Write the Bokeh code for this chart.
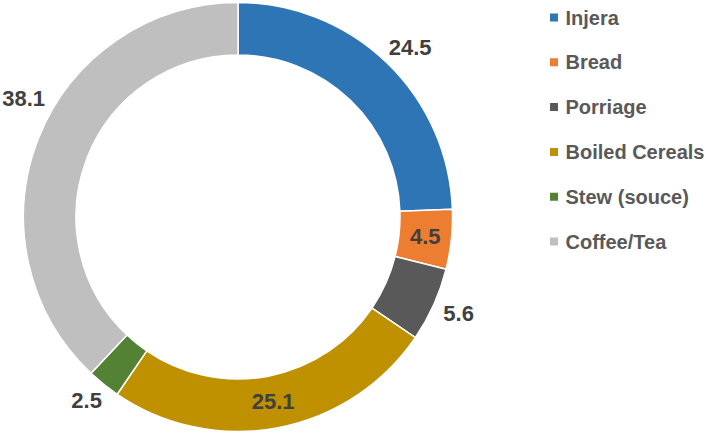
import math
import numpy as np
from bokeh.plotting import figure
from bokeh.models import Range1d, ColumnDataSource
from bokeh.core.properties import value
from bokeh.embed import file_html
from bokeh.resources import INLINE

# ---- data ----
categories = ["Injera", "Bread", "Porriage", "Boiled Cereals", "Stew (souce)", "Coffee/Tea"]
values = [24.5, 4.5, 5.6, 25.1, 2.5, 38.1]
colors = ["#2E75B6", "#ED7D31", "#595959", "#BF9000", "#548235", "#BFBFBF"]
label_inside = [False, True, False, True, False, False]

# ---- layout / style ----
W, H = 709, 433
CX, CY = 237.5, H - 216.5
R_OUT, R_IN = 214.5, 162.0
GAP = 8.0
LABEL_PX = 22
LABEL_COLOR = "#404040"
LEG_PX = 20
LEG_COLOR = "#595959"
FONT = "Liberation Sans"

p = figure(width=W, height=H, output_backend="svg", toolbar_location=None,
           x_range=Range1d(0, W), y_range=Range1d(0, H), min_border=0,
           border_fill_color="white", background_fill_color="white")
p.axis.visible = False
p.grid.visible = False
p.outline_line_color = None

total = float(sum(values))
cum = np.concatenate([[0.0], np.cumsum(values)]) / total
starts = [math.pi / 2 - 2 * math.pi * cum[i + 1] for i in range(len(values))]
ends = [math.pi / 2 - 2 * math.pi * cum[i] for i in range(len(values))]

src = ColumnDataSource(dict(cat=categories, val=values, color=colors, start=starts, end=ends))
p.annular_wedge(x=CX, y=CY, inner_radius=R_IN, outer_radius=R_OUT,
                start_angle="start", end_angle="end", direction="anticlock",
                fill_color="color", line_color="white", line_width=1.5, source=src)

# ---- data labels ----
lx, ly, lt = [], [], []
for i, v in enumerate(values):
    txt = f"{v:.1f}"
    theta = math.pi * (cum[i] + cum[i + 1])  # clockwise from top
    if label_inside[i]:
        r = (R_OUT + R_IN) / 2
        x = CX + r * math.sin(theta)
        y = CY + r * math.cos(theta)
    else:
        tw = LABEL_PX * (0.556 * (len(txt) - 1) + 0.278)
        bw = tw + 8
        bh = LABEL_PX * 1.2
        r = R_OUT + GAP
        for _ in range(200):
            x = CX + r * math.sin(theta) + bw / 2 * math.sin(theta)
            y = CY + r * math.cos(theta) + bh / 2 * math.cos(theta)
            if x - tw / 2 >= 1 and x + tw / 2 <= W - 1:
                break
            theta += math.radians(0.5) * (1 if math.cos(theta) > 0 else -1) * (1 if math.sin(theta) < 0 else -1)
    lx.append(x); ly.append(y); lt.append(txt)

p.text(x=lx, y=ly, text=lt, text_align="center", text_baseline="middle",
       text_font=value(FONT), text_font_style="bold",
       text_font_size=f"{LABEL_PX}px", text_color=LABEL_COLOR)

# ---- legend (drawn manually) ----
LEG_X = 553.5
LEG_TOP = H - 17.0
LEG_STEP = 44.8
leg_y = [LEG_TOP - i * LEG_STEP for i in range(len(categories))]
p.scatter(x=[LEG_X] * len(categories), y=leg_y, marker="square", size=8,
          fill_color=colors, line_color=None)
p.text(x=[LEG_X + 11.5] * len(categories), y=leg_y, text=categories,
       text_align="left", text_baseline="middle", text_font=value(FONT),
       text_font_style="bold", text_font_size=f"{LEG_PX}px", text_color=LEG_COLOR)

open("out.html", "w").write(file_html(p, INLINE))
